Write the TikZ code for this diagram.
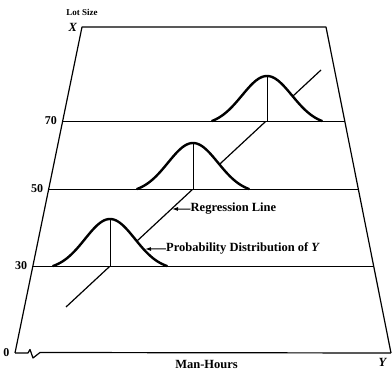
\documentclass[tikz,border=0pt]{standalone}
\usepackage{fontspec}
\setmainfont{Liberation Serif}
\usetikzlibrary{positioning}
\usetikzlibrary{calc}
\usetikzlibrary{arrows.meta}

\begin{document}
\begin{tikzpicture}
    [
    x=1pt,y=-1pt,
    frame/.style={line width=1.2pt,line join=round},
    level/.style={line width=0.7pt},
    bell/.style={line width=2.4pt,line cap=round,line join=round},
    mean/.style={line width=0.9pt},
    regline/.style={line width=1.2pt},
    lbl/.style={inner sep=0pt,font=\fontsize{12.5}{14}\selectfont\bfseries},
    small/.style={inner sep=0pt,font=\fontsize{9}{11}\selectfont\bfseries},
    num/.style={inner sep=0pt,font=\fontsize{12}{14}\selectfont\bfseries},
    pointer/.style={line width=1pt,-{Latex[length=6pt,width=4pt]}}
    ]
    \useasboundingbox (0,0) rectangle (392,374);
    % corners of the plane
    \coordinate (tl) at (82,27);
    \coordinate (tr) at (326,27);
    \coordinate (bl) at (15,353);
    \coordinate (br) at (391,353);
    % regression line
    \coordinate (r0) at (66,307);
    \coordinate (r1) at (321,70);
    \draw [regline] (r0) -- (r1);
    % distributions of Y (opaque)
    \foreach \cx/\cy/\h/\d in {110/266/47/57, 193/189/46/56, 267/121/45/55} {
      \fill [white] plot [domain=-\d:\d,samples=61]
        ({\cx+\x},{\cy-\h*(exp(-((\x)*(\x))/1250)-exp(-(\d*\d)/1250))/(1-exp(-(\d*\d)/1250))}) -- cycle;
    }
    % levels of X
    \coordinate (e70) at ($(tl)!0.2883!(bl)$);
    \coordinate (f70) at ($(tr)!0.2883!(br)$);
    \coordinate (e50) at ($(tl)!0.4969!(bl)$);
    \coordinate (f50) at ($(tr)!0.4969!(br)$);
    \coordinate (e30) at ($(tl)!0.7331!(bl)$);
    \coordinate (f30) at ($(tr)!0.7331!(br)$);
    \draw [level] (e70) -- (f70);
    \draw [level] (e50) -- (f50);
    \draw [level] (e30) -- (f30);
    % means
    \coordinate (m30) at (110,266);
    \coordinate (p30) at (110,219);
    \coordinate (m50) at (193,189);
    \coordinate (p50) at (193,143);
    \coordinate (m70) at (267,121);
    \coordinate (p70) at (267,76);
    \draw [mean] (m30) -- (p30);
    \draw [mean] (m50) -- (p50);
    \draw [mean] (m70) -- (p70);
    \foreach \cx/\cy/\h/\d in {110/266/47/57, 193/189/46/56, 267/121/45/55} {
      \draw [bell] plot [domain=-\d:\d,samples=61]
        ({\cx+\x},{\cy-\h*(exp(-((\x)*(\x))/1250)-exp(-(\d*\d)/1250))/(1-exp(-(\d*\d)/1250))});
    }
    % plane
    \draw [frame] (bl) -- (tl) -- (tr) -- (br);
    \draw [frame] (bl) -- (28,353) -- (30,349.5) -- (33,358) -- (40,352.5) -- (br);
    % axis labels
    \node [small, above=11pt of tl] (lot) {Lot Size};
    \node [lbl, left=4.5pt of tl] (xlab) {\textit{X}};
    \node [num, left=5.5pt of bl] (zero) {0};
    \node [num, left=5.5pt of e70] (n70) {70};
    \node [num, left=5.5pt of e50] (n50) {50};
    \node [num, left=5.5pt of e30] (n30) {30};
    \coordinate (mid) at (206.5,353);
    \node [lbl, below=7pt of mid] (hours) {Man-Hours};
    \node [lbl, below=5pt of br, xshift=-8pt] (ylab) {\textit{Y}};
    % pointers
    \node [lbl, anchor=base west] (reg) at (190.5,212) {Regression Line};
    \node [lbl, anchor=base west] (prob) at (166,252) {Probability Distribution of \textit{Y}};
    \coordinate (ra) at (172,209);
    \coordinate (pa) at (145,249);
    \draw [pointer] (reg.west) -- (ra);
    \draw [pointer] (prob.west) -- (pa);
  \end{tikzpicture}
\end{document}
